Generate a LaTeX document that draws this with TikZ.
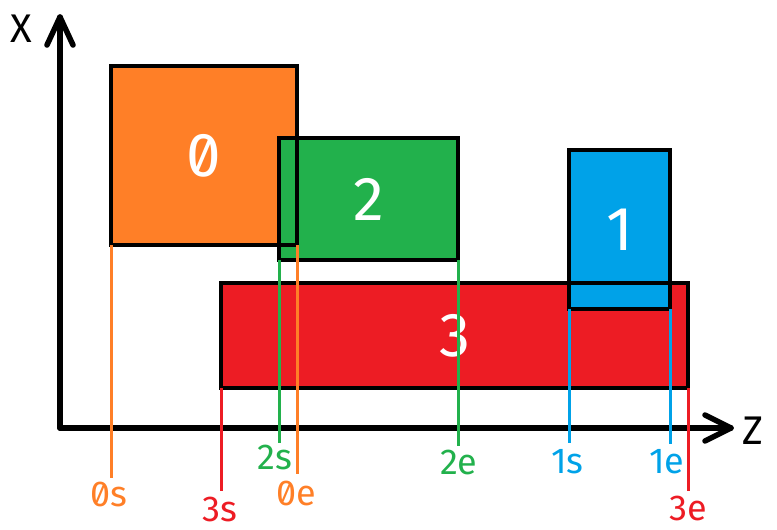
\documentclass[tikz,border=0pt]{standalone}
\usepackage{fontspec}
\newfontfamily\labfont[RawFeature=+zero]{Fira Sans}
\definecolor{porange}{HTML}{FF7F27}
\definecolor{pgreen}{HTML}{22B14C}
\definecolor{pblue}{HTML}{00A2E8}
\definecolor{pred}{HTML}{ED1C24}
\tikzset{
  axisline/.style={line width=5.5pt, line join=round, line cap=round},
  boxfill/.style={inner sep=0pt, outer sep=0pt, text=white, font=\labfont\fontsize{62}{62}\selectfont},
  boxedge/.style={draw=black, line width=4.5pt},
  tickline/.style={line width=3pt},
  ticklabel/.style={inner sep=0pt, font=\labfont\fontsize{36}{36}\selectfont},
  axislabel/.style={inner sep=0pt, font=\labfont\fontsize{40}{40}\selectfont}
}
\begin{document}
\begin{tikzpicture}[x=1pt,y=-1pt]
\useasboundingbox (0,0) rectangle (777,530);
% axes
\coordinate (origin) at (60,428);
\coordinate (ytip) at (60,17);
\coordinate (xtip) at (731,428);
\draw[axisline] (origin) -- (ytip);
\draw[axisline] (origin) -- (xtip);
\draw[axisline] ([xshift=-13pt,yshift=-28pt]ytip) -- (ytip) -- ([xshift=13pt,yshift=-28pt]ytip);
\draw[axisline] ([xshift=-26pt,yshift=13pt]xtip) -- (xtip) -- ([xshift=-26pt,yshift=-13pt]xtip);
\node[axislabel] (xlab) at (21.5,29) {X};
\node[axislabel] (zlab) at (753,431) {Z};
% box fills
\node[boxfill, fill=pred, minimum width=467pt, minimum height=105pt] (b3) at (454.5,335.5) {3};
\node[boxfill, fill=porange, minimum width=186pt, minimum height=179pt] (b0) at (204,155.5) {0};
\node[boxfill, fill=pgreen, minimum width=179pt, minimum height=122pt] (b2) at (368.5,199) {2};
\node[boxfill, fill=pblue, minimum width=101pt, minimum height=159pt] (b1) at (619.5,229.5) {1};
% box edges
\draw[boxedge] (b3.south west) rectangle (b3.north east);
\draw[boxedge] (b0.south west) rectangle (b0.north east);
\draw[boxedge] (b2.south west) rectangle (b2.north east);
\draw[boxedge] (b1.south west) rectangle (b1.north east);
% tick end points
\coordinate (e0s) at (111,478);
\coordinate (e0e) at (297,474);
\coordinate (e3s) at (221,491);
\coordinate (e3e) at (688,491);
\coordinate (e2s) at (279,443);
\coordinate (e2e) at (458,446);
\coordinate (e1s) at (569,443);
\coordinate (e1e) at (670,444);
% tick lines
\draw[tickline, porange] (b0.south west) -- (e0s);
\draw[tickline, porange] (b0.south east) -- (e0e);
\draw[tickline, pred] (b3.south west) -- (e3s);
\draw[tickline, pred] (b3.south east) -- (e3e);
\draw[tickline, pgreen] (b2.south west) -- (e2s);
\draw[tickline, pgreen] (b2.south east) -- (e2e);
\draw[tickline, pblue] (b1.south west) -- (e1s);
\draw[tickline, pblue] (b1.south east) -- (e1e);
% tick labels
\node[ticklabel, text=porange] (l0s) at (108.5,494.5) {0s};
\node[ticklabel, text=porange] (l0e) at (296,493.5) {0e};
\node[ticklabel, text=pred] (l3s) at (219.5,509.5) {3s};
\node[ticklabel, text=pred] (l3e) at (688.5,508.5) {3e};
\node[ticklabel, text=pgreen] (l2s) at (274.5,457.5) {2s};
\node[ticklabel, text=pgreen] (l2e) at (458.5,462) {2e};
\node[ticklabel, text=pblue] (l1s) at (567.5,462) {1s};
\node[ticklabel, text=pblue] (l1e) at (667,462) {1e};
\end{tikzpicture}
\end{document}
